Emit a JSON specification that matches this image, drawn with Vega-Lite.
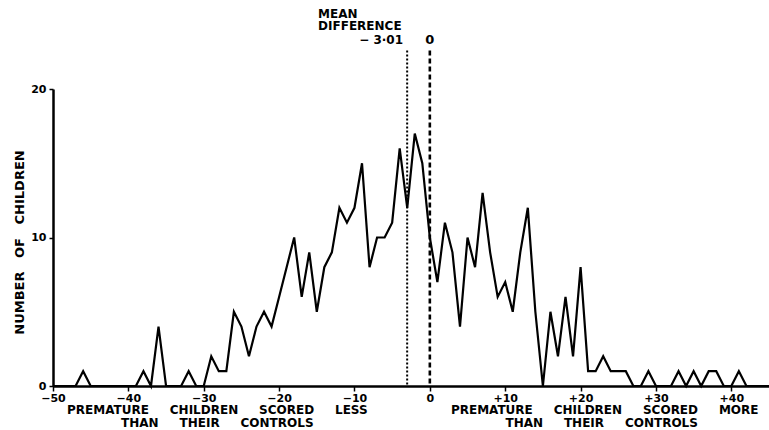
{
  "$schema": "https://vega.github.io/schema/vega-lite/v6.json",
  "width": 716,
  "height": 297,
  "autosize": {"type": "none"},
  "padding": {"left": 53, "top": 89, "right": 0, "bottom": 44},
  "background": "white",
  "config": {
    "view": {"stroke": null},
    "font": "DejaVu Sans",
    "text": {"font": "DejaVu Sans", "fontWeight": "bold", "color": "black"}
  },
  "datasets": {
    "counts": [
      {"d": -50, "n": 0}, {"d": -49, "n": 0}, {"d": -48, "n": 0}, {"d": -47, "n": 0},
      {"d": -46, "n": 1}, {"d": -45, "n": 0}, {"d": -44, "n": 0}, {"d": -43, "n": 0},
      {"d": -42, "n": 0}, {"d": -41, "n": 0}, {"d": -40, "n": 0}, {"d": -39, "n": 0},
      {"d": -38, "n": 1}, {"d": -37, "n": 0}, {"d": -36, "n": 4}, {"d": -35, "n": 0},
      {"d": -34, "n": 0}, {"d": -33, "n": 0}, {"d": -32, "n": 1}, {"d": -31, "n": 0},
      {"d": -30, "n": 0}, {"d": -29, "n": 2}, {"d": -28, "n": 1}, {"d": -27, "n": 1},
      {"d": -26, "n": 5}, {"d": -25, "n": 4}, {"d": -24, "n": 2}, {"d": -23, "n": 4},
      {"d": -22, "n": 5}, {"d": -21, "n": 4}, {"d": -20, "n": 6}, {"d": -19, "n": 8},
      {"d": -18, "n": 10}, {"d": -17, "n": 6}, {"d": -16, "n": 9}, {"d": -15, "n": 5},
      {"d": -14, "n": 8}, {"d": -13, "n": 9}, {"d": -12, "n": 12}, {"d": -11, "n": 11},
      {"d": -10, "n": 12}, {"d": -9, "n": 15}, {"d": -8, "n": 8}, {"d": -7, "n": 10},
      {"d": -6, "n": 10}, {"d": -5, "n": 11}, {"d": -4, "n": 16}, {"d": -3, "n": 12},
      {"d": -2, "n": 17}, {"d": -1, "n": 15}, {"d": 0, "n": 10}, {"d": 1, "n": 7},
      {"d": 2, "n": 11}, {"d": 3, "n": 9}, {"d": 4, "n": 4}, {"d": 5, "n": 10},
      {"d": 6, "n": 8}, {"d": 7, "n": 13}, {"d": 8, "n": 9}, {"d": 9, "n": 6},
      {"d": 10, "n": 7}, {"d": 11, "n": 5}, {"d": 12, "n": 9}, {"d": 13, "n": 12},
      {"d": 14, "n": 5}, {"d": 15, "n": 0}, {"d": 16, "n": 5}, {"d": 17, "n": 2},
      {"d": 18, "n": 6}, {"d": 19, "n": 2}, {"d": 20, "n": 8}, {"d": 21, "n": 1},
      {"d": 22, "n": 1}, {"d": 23, "n": 2}, {"d": 24, "n": 1}, {"d": 25, "n": 1},
      {"d": 26, "n": 1}, {"d": 27, "n": 0}, {"d": 28, "n": 0}, {"d": 29, "n": 1},
      {"d": 30, "n": 0}, {"d": 31, "n": 0}, {"d": 32, "n": 0}, {"d": 33, "n": 1},
      {"d": 34, "n": 0}, {"d": 35, "n": 1}, {"d": 36, "n": 0}, {"d": 37, "n": 1},
      {"d": 38, "n": 1}, {"d": 39, "n": 0}, {"d": 40, "n": 0}, {"d": 41, "n": 1},
      {"d": 42, "n": 0}, {"d": 43, "n": 0}, {"d": 44, "n": 0}, {"d": 45, "n": 0}
    ],
    "meanLine": [{"x": -3.01, "top": 22.6, "bottom": 0}],
    "zeroLine": [{"x": 0, "top": 22.6, "bottom": 0}],
    "leftNotes": [
      {"x": -14.83, "y": 25.05, "label": "MEAN"},
      {"x": -14.83, "y": 24.21, "label": "DIFFERENCE"}
    ],
    "rightNotes": [
      {"x": -3.56, "y": 23.33, "label": "−\u00a03·01"}
    ],
    "centerNotes": [
      {"x": 0, "y": 23.3, "label": "0"}
    ],
    "bottomNotes": [
      {"x": -28.2, "y": -1.62, "label": "PREMATURE\u00a0\u00a0\u00a0\u00a0\u00a0CHILDREN\u00a0\u00a0\u00a0\u00a0\u00a0SCORED\u00a0\u00a0\u00a0\u00a0\u00a0LESS"},
      {"x": -28.2, "y": -2.49, "label": "THAN\u00a0\u00a0\u00a0\u00a0\u00a0THEIR\u00a0\u00a0\u00a0\u00a0\u00a0CONTROLS"},
      {"x": 23.2, "y": -1.62, "label": "PREMATURE\u00a0\u00a0\u00a0\u00a0\u00a0CHILDREN\u00a0\u00a0\u00a0\u00a0\u00a0SCORED\u00a0\u00a0\u00a0\u00a0\u00a0MORE"},
      {"x": 22.8, "y": -2.49, "label": "THAN\u00a0\u00a0\u00a0\u00a0\u00a0THEIR\u00a0\u00a0\u00a0\u00a0\u00a0CONTROLS"}
    ]
  },
  "layer": [
    {
      "data": {"name": "counts"},
      "mark": {"type": "line", "color": "black", "strokeWidth": 2.2, "clip": false},
      "encoding": {
        "x": {
          "field": "d", "type": "quantitative",
          "scale": {"domain": [-50, 45], "nice": false, "zero": false},
          "axis": {
            "values": [-50, -40, -30, -20, -10, 0, 10, 20, 30, 40],
            "labelExpr": "datum.value > 0 ? '+' + datum.label : datum.label",
            "title": null, "grid": false, "labelFlush": false,
            "domainColor": "black", "domainWidth": 2.5,
            "tickColor": "black", "tickWidth": 1.5, "tickSize": 5,
            "labelColor": "black", "labelFont": "DejaVu Sans", "labelFontWeight": "bold",
            "labelFontSize": 11, "labelPadding": 1
          }
        },
        "y": {
          "field": "n", "type": "quantitative",
          "scale": {"domain": [0, 20], "nice": false},
          "axis": {
            "values": [0, 10, 20],
            "title": "NUMBER\u00a0\u00a0\u00a0OF\u00a0\u00a0\u00a0CHILDREN",
            "grid": false, "labelFlush": false,
            "domainColor": "black", "domainWidth": 2.5,
            "tickColor": "black", "tickWidth": 1.5, "tickSize": 4,
            "labelColor": "black", "labelFont": "DejaVu Sans", "labelFontWeight": "bold",
            "labelFontSize": 11, "labelPadding": 3,
            "titleColor": "black", "titleFont": "DejaVu Sans", "titleFontWeight": "bold",
            "titleFontSize": 13, "titleAngle": 270, "titleAlign": "center", "titleBaseline": "middle",
            "titleX": -34, "titleY": 153
          }
        }
      }
    },
    {
      "data": {"name": "meanLine"},
      "mark": {"type": "rule", "color": "black", "strokeWidth": 2, "strokeDash": [2, 2], "clip": false},
      "encoding": {
        "x": {"field": "x", "type": "quantitative"},
        "y": {"field": "top", "type": "quantitative"},
        "y2": {"field": "bottom"}
      }
    },
    {
      "data": {"name": "zeroLine"},
      "mark": {"type": "rule", "color": "black", "strokeWidth": 2.6, "strokeDash": [5, 3], "clip": false},
      "encoding": {
        "x": {"field": "x", "type": "quantitative"},
        "y": {"field": "top", "type": "quantitative"},
        "y2": {"field": "bottom"}
      }
    },
    {
      "data": {"name": "leftNotes"},
      "mark": {"type": "text", "align": "left", "baseline": "middle", "fontSize": 12, "fontWeight": "bold", "clip": false},
      "encoding": {
        "x": {"field": "x", "type": "quantitative"},
        "y": {"field": "y", "type": "quantitative"},
        "text": {"field": "label"}
      }
    },
    {
      "data": {"name": "rightNotes"},
      "mark": {"type": "text", "align": "right", "baseline": "middle", "fontSize": 12, "fontWeight": "bold", "clip": false},
      "encoding": {
        "x": {"field": "x", "type": "quantitative"},
        "y": {"field": "y", "type": "quantitative"},
        "text": {"field": "label"}
      }
    },
    {
      "data": {"name": "centerNotes"},
      "mark": {"type": "text", "align": "center", "baseline": "middle", "fontSize": 13, "fontWeight": "bold", "clip": false},
      "encoding": {
        "x": {"field": "x", "type": "quantitative"},
        "y": {"field": "y", "type": "quantitative"},
        "text": {"field": "label"}
      }
    },
    {
      "data": {"name": "bottomNotes"},
      "mark": {"type": "text", "align": "center", "baseline": "middle", "fontSize": 12, "fontWeight": "bold", "clip": false},
      "encoding": {
        "x": {"field": "x", "type": "quantitative"},
        "y": {"field": "y", "type": "quantitative"},
        "text": {"field": "label"}
      }
    }
  ]
}
